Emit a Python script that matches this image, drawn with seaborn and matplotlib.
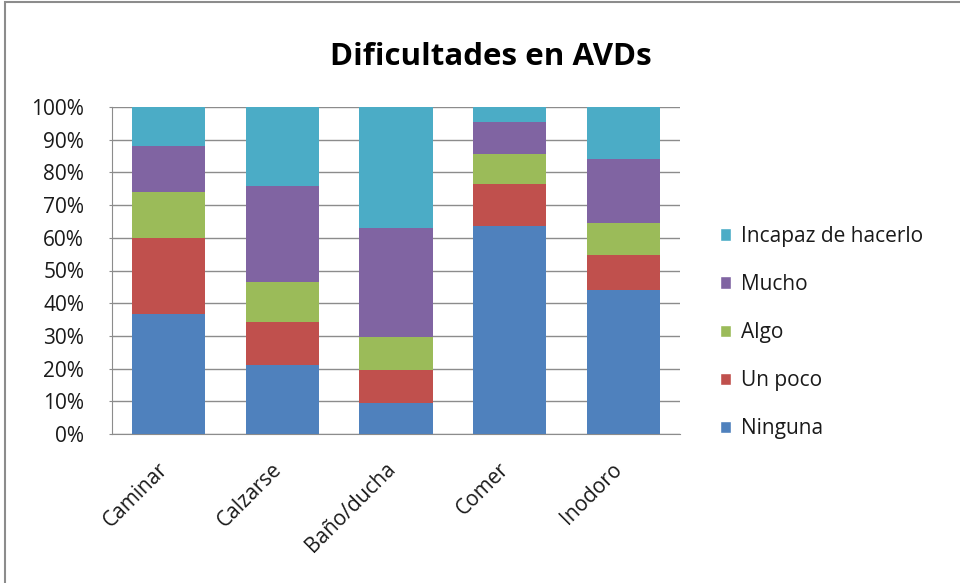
import numpy as np
import pandas as pd
import seaborn as sns
import matplotlib.pyplot as plt
from matplotlib.patches import Patch, Rectangle

# data (percent of each activity)
actividades = ["Caminar", "Calzarse", "Baño/ducha", "Comer", "Inodoro"]
series = ["Ninguna", "Un poco", "Algo", "Mucho", "Incapaz de hacerlo"]
ninguna = [36.7, 21.0, 9.6, 63.7, 44.1]
un_poco = [23.1, 13.3, 9.9, 12.9, 10.6]
algo = [14.1, 12.2, 10.1, 9.1, 9.8]
mucho = [14.1, 29.4, 33.4, 9.8, 19.6]
incapaz = [12.0, 24.1, 37.0, 4.5, 15.9]
colores = ["#4F81BD", "#C0504D", "#9BBB59", "#8064A2", "#4BACC6"]

sns.set_style("white")
plt.rcParams["font.family"] = ["Open Sans", "DejaVu Sans"]
plt.rcParams["text.color"] = "#1a1a1a"

df = pd.DataFrame({"Actividad": actividades, "Ninguna": ninguna, "Un poco": un_poco,
                   "Algo": algo, "Mucho": mucho, "Incapaz de hacerlo": incapaz})
cum = df[series].cumsum(axis=1)
cum = cum.div(cum[series[-1]], axis=0) * 100

fig = plt.figure(figsize=(9.6, 5.83), dpi=100)
ax = fig.add_axes([112 / 960, 1 - 434 / 583, 568 / 960, 327 / 583])

# draw from top of stack down so each layer covers the one below
for s, c in reversed(list(zip(series, colores))):
    sns.barplot(x=df["Actividad"], y=cum[s], color=c, width=0.645,
                ax=ax, saturation=1, linewidth=0, zorder=3)

ax.set_xlim(-0.5, 4.5)
ax.set_ylim(0, 100)
ax.set_yticks(np.arange(0, 101, 10))
ax.set_yticklabels([f"{v}%" for v in range(0, 101, 10)], fontsize=15, color="#1a1a1a")
ax.set_xticks(range(len(actividades)))
ax.set_xticklabels(actividades, rotation=45, ha="right", va="baseline",
                   rotation_mode="anchor", fontsize=15, color="#1a1a1a")
ax.set_xlabel("")
ax.set_ylabel("")
ax.yaxis.grid(True, color="#8c8c8c", linewidth=1, zorder=0)
ax.set_axisbelow(True)
for sp in ["top", "right"]:
    ax.spines[sp].set_visible(False)
for sp in ["left", "bottom"]:
    ax.spines[sp].set_color("#8c8c8c")
ax.tick_params(axis="y", left=True, length=2, color="#8c8c8c", pad=18)
ax.tick_params(axis="x", bottom=False, length=0, pad=26)

fig.text(491 / 960, 1 - 65 / 583, "Dificultades en AVDs", ha="center", va="baseline",
         fontsize=22.5, fontweight="bold", color="#000000")

handles = [Patch(facecolor=c, label=s) for s, c in zip(series, colores)][::-1]
fig.legend(handles=handles, loc="upper left", bbox_to_anchor=(720 / 960, 1 - 226 / 583),
           frameon=False, fontsize=15, labelspacing=1.3, handlelength=0.55,
           handleheight=0.55, handletextpad=0.45, borderaxespad=0, borderpad=0)

fig.patches.append(Rectangle((5 / 960, -0.01), 1.2, 1 - 2 / 583 + 0.01, transform=fig.transFigure,
                             fill=False, edgecolor="#8c8c8c", linewidth=1.5))

fig.savefig("out.png", dpi=100)
